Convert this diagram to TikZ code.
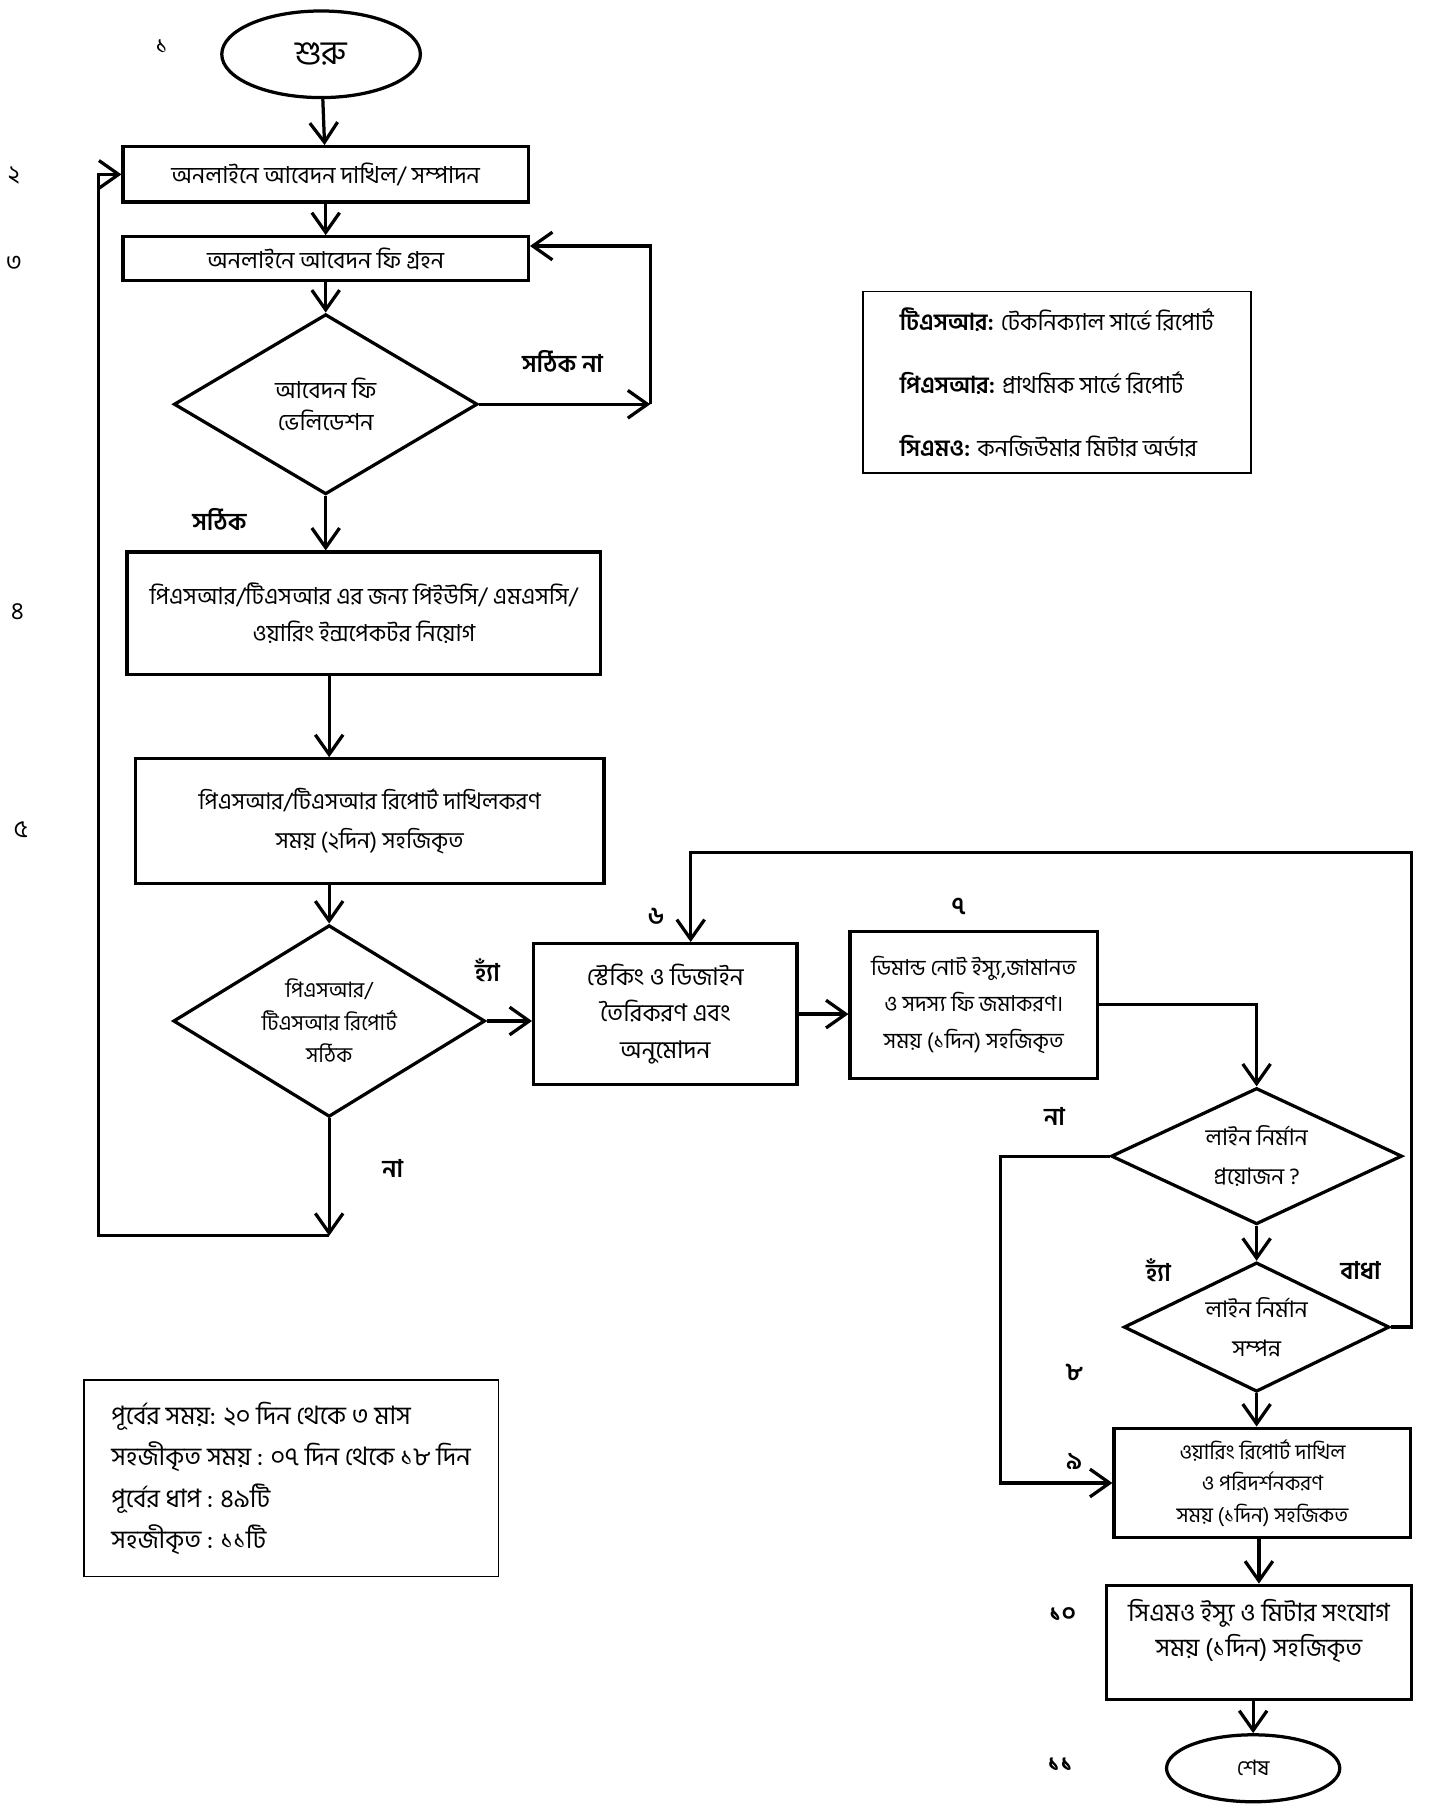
\documentclass[tikz,border=0pt]{standalone}
\usepackage{fontspec}
\setmainfont{Hind Siliguri}[Script=Bengali]
\usetikzlibrary{arrows.meta,shapes.geometric,positioning,calc}

\begin{document}
\begin{tikzpicture}[x=0.02cm,y=-0.02cm,line width=1.6pt,
    box/.style={draw,rectangle,align=center,inner sep=2pt,font=\fontsize{11.5}{18}\selectfont},
    decision/.style={draw,diamond,aspect=1.6,align=center,inner sep=0pt,font=\fontsize{11.5}{18}\selectfont},
    terminal/.style={draw,ellipse,inner sep=0pt},
    note/.style={draw,line width=.8pt,rectangle,align=left,inner sep=0pt},
    answer/.style={font=\bfseries\fontsize{12}{14}\selectfont},
    num/.style={font=\fontsize{12}{14}\selectfont},
    arr/.style={-{Straight Barb[length=3.4mm,width=4.8mm,line width=1.6pt]}}]

      \useasboundingbox (0,0) rectangle (1255,1568);

      \path (278,47)   node[terminal,minimum width=3.44cm,minimum height=1.5cm,font=\fontsize{16.5}{18}\selectfont] (start) {শুরু};
      \path (282,151)  node[box,minimum width=7.02cm,minimum height=0.96cm] (apply) {অনলাইনে আবেদন দাখিল/ সম্পাদন};
      \path (282,224)  node[box,minimum width=7.02cm,minimum height=0.76cm] (fee) {অনলাইনে আবেদন ফি গ্রহন};
      \path (282,350)  node[decision,minimum width=5.26cm,minimum height=3.12cm,font=\fontsize{11.5}{16}\selectfont] (feecheck) {আবেদন ফি\\ভেলিডেশন};
      \path (315,531)  node[box,minimum width=8.2cm,minimum height=2.12cm] (assign) {পিএসআর/টিএসআর এর জন্য পিইউসি/ এমএসসি/\\ওয়ারিং ইন্সপেকটর নিয়োগ};
      \path (320,711)  node[box,minimum width=8.12cm,minimum height=2.16cm,font=\fontsize{11.3}{19}\selectfont] (report) {পিএসআর/টিএসআর রিপোর্ট দাখিলকরণ\\সময় (২দিন) সহজিকৃত};
      \path (285,884)  node[decision,minimum width=5.4cm,minimum height=3.32cm,font=\fontsize{10.5}{16}\selectfont] (reportcheck) {পিএসআর/\\টিএসআর রিপোর্ট\\সঠিক};
      \path (576,878)  node[box,minimum width=4.56cm,minimum height=2.44cm,font=\fontsize{12}{18}\selectfont] (design) {স্টেকিং ও ডিজাইন\\তৈরিকরণ এবং\\অনুমোদন};
      \path (843,870)  node[box,minimum width=4.28cm,minimum height=2.54cm,font=\fontsize{10.8}{18}\selectfont] (demand) {ডিমান্ড নোট ইস্যু,জামানত\\ও সদস্য ফি জমাকরণ।\\সময় (১দিন) সহজিকৃত};
      \path (1088,1001) node[decision,minimum width=5.04cm,minimum height=2.36cm,font=\fontsize{11.2}{19}\selectfont] (needline) {লাইন নির্মান\\প্রয়োজন ?};
      \path (1088,1149) node[decision,minimum width=4.6cm,minimum height=2.24cm,font=\fontsize{11.2}{19}\selectfont] (linedone) {লাইন নির্মান\\সম্পন্ন};
      \path (1093,1284) node[box,minimum width=5.14cm,minimum height=1.9cm,font=\fontsize{10.3}{15.5}\selectfont] (wiring) {ওয়ারিং রিপোর্ট দাখিল\\ও পরিদর্শনকরণ\\সময় (১দিন) সহজিকত};
      \path (1090,1422) node[box,minimum width=5.28cm,minimum height=1.98cm,text depth=0.5cm,font=\fontsize{12.4}{17}\selectfont] (meter) {সিএমও ইস্যু ও মিটার সংযোগ\\সময় (১দিন) সহজিকৃত};
      \path (1085,1531) node[terminal,minimum width=3cm,minimum height=1.16cm,font=\fontsize{10.5}{12}\selectfont] (finish) {শেষ};

      \path (915,331)  node[note,minimum width=6.72cm,minimum height=3.14cm,font=\fontsize{11.5}{31}\selectfont] (legend)
        {\textbf{টিএসআর:} টেকনিক্যাল সার্ভে রিপোর্ট\\\textbf{পিএসআর:} প্রাথমিক সার্ভে রিপোর্ট\\\textbf{সিএমও:} কনজিউমার মিটার অর্ডার};
      \path (252,1280) node[note,minimum width=7.18cm,minimum height=3.4cm,font=\fontsize{12.5}{20.5}\selectfont] (summary)
        {পূর্বের সময়: ২০ দিন থেকে ৩ মাস\\সহজীকৃত সময় : ০৭ দিন থেকে ১৮ দিন\\পূর্বের ধাপ : ৪৯টি\\সহজীকৃত : ১১টি};

      \path (140,40)   node[num] (n1)  {১};
      \path (12,152)   node[num] (n2)  {২};
      \path (12,228)   node[num] (n3)  {৩};
      \path (15,530)   node[num] (n4)  {৪};
      \path (18,718)   node[num] (n5)  {৫};
      \path (568,793)  node[num,font=\bfseries\fontsize{12}{14}\selectfont] (n6)  {৬};
      \path (830,785)  node[num,font=\bfseries\fontsize{12}{14}\selectfont] (n7)  {৭};
      \path (930,1188) node[num,font=\bfseries\fontsize{12}{14}\selectfont] (n8)  {৮};
      \path (930,1265) node[num,font=\bfseries\fontsize{12}{14}\selectfont] (n9)  {৯};
      \path (920,1398) node[num,font=\bfseries\fontsize{12}{14}\selectfont] (n10) {১০};
      \path (918,1528) node[num,font=\bfseries\fontsize{12}{14}\selectfont] (n11) {১১};

      \path (487,313)  node[answer] (feewrong)  {সঠিক না};
      \path (190,450)  node[answer] (feeright)  {সঠিক};
      \path (422,840)  node[answer] (reportyes) {হ্যাঁ};
      \path (340,1012) node[answer] (reportno)  {না};
      \path (913,967)  node[answer] (lineno)    {না};
      \path (1003,1100) node[answer] (lineyes)  {হ্যাঁ};
      \path (1178,1100) node[answer] (lineblock) {বাধা};

      \coordinate (feeloop)   at (563,213);
      \coordinate (back)      at (285,1070);
      \coordinate (backleft)  at (85,1070);
      \coordinate (noline)    at (866,1284);
      \coordinate (blockright) at (1222,738);
      \coordinate (blockleft) at (598,738);

      \draw[arr] (start) -- (apply);
      \draw[arr] (apply) -- (fee);
      \draw[arr] (fee) -- (feecheck);
      \draw[arr] (feecheck.east) -- (feecheck.east -| feeloop);
      \draw[arr] (feecheck.east -| feeloop) -- (feeloop) -- (fee.east |- feeloop);
      \draw[arr] (feecheck) -- (feecheck |- assign.north);
      \draw[arr] (assign.south -| reportcheck) -- (report.north -| reportcheck);
      \draw[arr] (report.south -| reportcheck) -- (reportcheck);
      \draw[arr] (reportcheck) -- (back);
      \draw[arr] (back) -- (backleft) |- (apply.west);
      \draw[arr] (reportcheck.east) -- (reportcheck.east -| design.west);
      \draw[arr] (design.east) -- (design.east -| demand.west);
      \draw[arr] (demand.east) -| (needline.north);
      \draw[arr] (needline) -- (linedone);
      \draw[arr] (needline.west) -| (noline) -- (wiring.west);
      \draw[arr] (linedone.east) -| (blockright) -- (blockleft) -- (blockleft |- design.north);
      \draw[arr] (linedone) -- (linedone |- wiring.north);
      \draw[arr] (wiring.south -| meter) -- (meter);
      \draw[arr] (meter.south -| finish) -- (finish);

    \end{tikzpicture}
\end{document}
